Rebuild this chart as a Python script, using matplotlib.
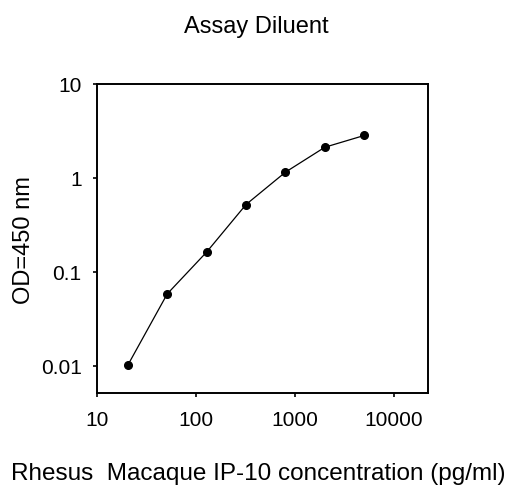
import matplotlib
matplotlib.use("Agg")
import matplotlib.pyplot as plt

plt.rcParams['font.family'] = ['Liberation Sans', 'DejaVu Sans']

concentration = [20.48, 51.2, 128, 320, 800, 2000, 5000]
od450 = [0.0101, 0.058, 0.162, 0.52, 1.15, 2.12, 2.83]
x_ticks = [10, 100, 1000, 10000]
x_tick_labels = ['10', '100', '1000', '10000']
y_ticks = [0.01, 0.1, 1, 10]
y_tick_labels = ['0.01', '0.1', '1', '10']

W, H = 508, 489
fig = plt.figure(figsize=(W / 100, H / 100), dpi=100)
ax = fig.add_axes([97 / W, 1 - 394 / H, (428 - 97) / W, (394 - 85) / H])

ax.plot(concentration, od450, color='black', linewidth=0.9,
        marker='o', markersize=5.5, markerfacecolor='black', markeredgecolor='black')

ax.set_xscale('log')
ax.set_yscale('log')
ax.set_xlim(10, 22000)
ax.set_ylim(0.0051, 10)
ax.set_xticks(x_ticks)
ax.set_xticklabels(x_tick_labels)
ax.set_yticks(y_ticks)
ax.set_yticklabels(y_tick_labels)
ax.minorticks_off()
ax.tick_params(axis='both', direction='out', length=3, width=1.2,
               labelsize=15, color='black')
ax.tick_params(axis='x', pad=9)
ax.tick_params(axis='y', pad=8)

for s in ax.spines.values():
    s.set_linewidth(1.4)
    s.set_color('black')

fig.text(256.5 / W, 1 - 27 / H, 'Assay Diluent', ha='center', va='center', fontsize=17)
fig.text(24 / W, 1 - 240 / H, 'OD=450 nm', ha='center', va='center',
         rotation=90, fontsize=17)
fig.text(258.5 / W, 1 - 474 / H, 'Rhesus  Macaque IP-10 concentration (pg/ml)',
         ha='center', va='center', fontsize=17.5)

fig.savefig('out.png', dpi=100)
